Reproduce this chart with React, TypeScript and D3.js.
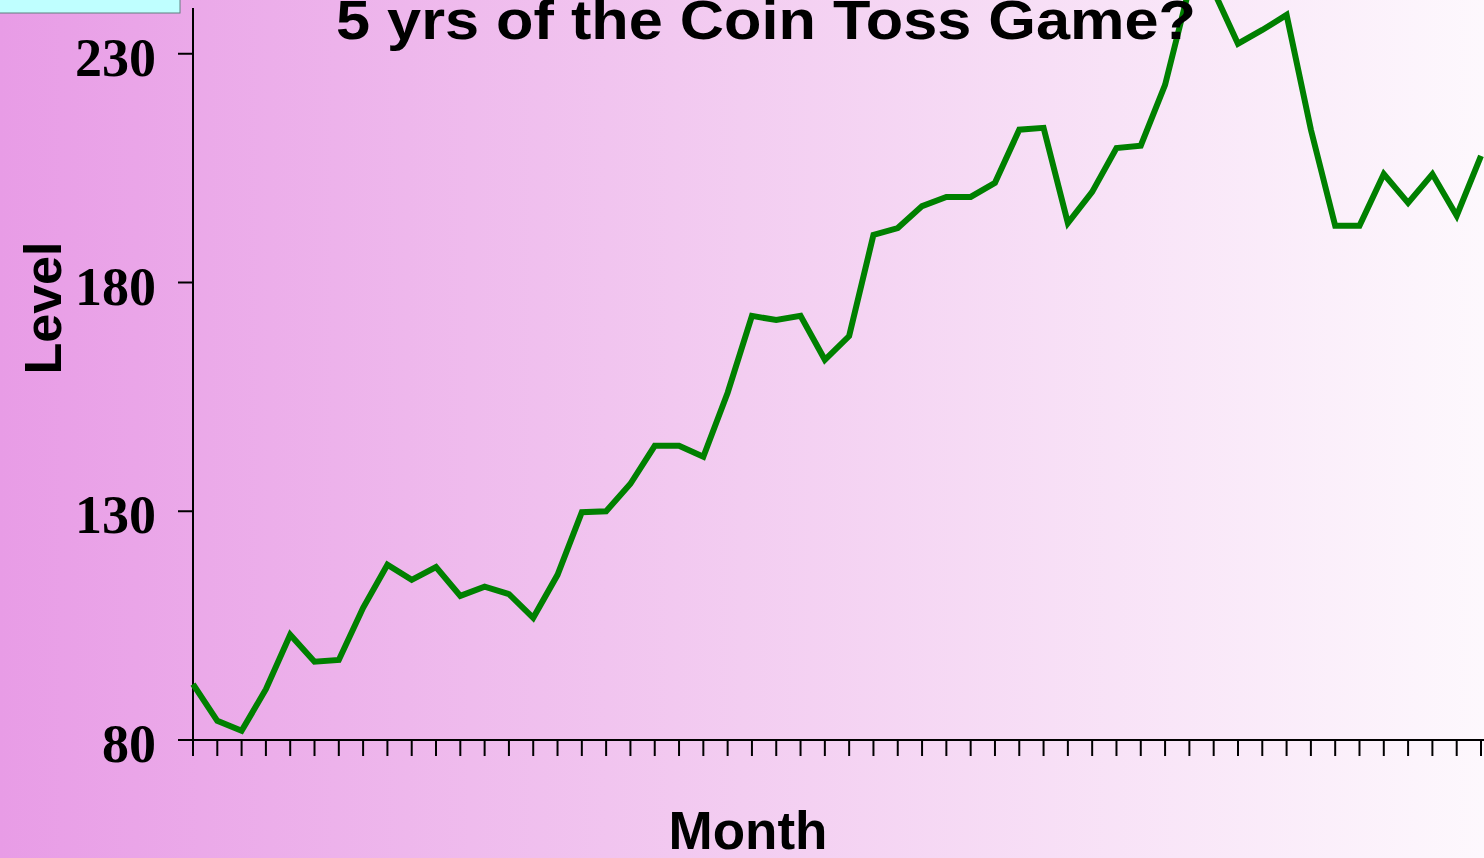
import React, { useRef, useEffect } from "react";
import * as d3 from "d3";

// monthly level of the coin toss game (visible part of the chart)
const levels: number[] = [
  92.2, 84.2, 82.0, 91.1, 103.0, 97.1, 97.5, 108.9, 118.3, 115.0,
  117.8, 111.5, 113.5, 111.9, 106.7, 116.1, 129.8, 130.0, 136.0, 144.3,
  144.3, 141.9, 155.9, 172.7, 171.8, 172.7, 163.1, 168.3, 190.4, 191.9,
  196.7, 198.7, 198.7, 201.8, 213.4, 213.8, 193.0, 199.8, 209.4, 209.9,
  223.2, 244.4, 243.7, 232.2, 235.2, 238.5, 213.4, 192.4, 192.4, 203.7,
  197.4, 203.7, 194.6, 207.7,
];
const yTicks: number[] = [80, 130, 180, 230];

const title = "5 yrs of the Coin Toss Game?";
const xTitle = "Month";
const yTitle = "Level";

const W = 1484;
const H = 858;

const App = () => {
  const svgRef = useRef<SVGSVGElement>(null);

  useEffect(() => {
    const svg = d3.select(svgRef.current);
    svg.selectAll("*").remove();

    const defs = svg.append("defs");
    const grad = defs
      .append("linearGradient")
      .attr("id", "bg")
      .attr("x1", "0%")
      .attr("x2", "100%")
      .attr("y1", "0%")
      .attr("y2", "0%");
    grad.append("stop").attr("offset", "0%").attr("stop-color", "#e89ce6");
    grad.append("stop").attr("offset", "50%").attr("stop-color", "#f3cdf1");
    grad.append("stop").attr("offset", "100%").attr("stop-color", "#fdf8fd");

    svg.append("rect").attr("width", W).attr("height", H).attr("fill", "url(#bg)");

    // legend box peeking in at the top left
    svg
      .append("rect")
      .attr("x", -2)
      .attr("y", -2)
      .attr("width", 182)
      .attr("height", 15)
      .attr("fill", "#bfffff")
      .attr("stroke", "#5f7f7f")
      .attr("stroke-width", 1);

    const x = d3.scaleLinear().domain([0, levels.length - 1]).range([193, 1481]);
    const y = d3.scaleLinear().domain([80, 240]).range([740, 8]);

    // y axis
    const yAxis = svg.append("g").attr("transform", "translate(193,0)");
    yAxis
      .append("line")
      .attr("y1", y(240))
      .attr("y2", y(80))
      .attr("stroke", "#000")
      .attr("stroke-width", 2);
    yTicks.forEach((t) => {
      yAxis
        .append("line")
        .attr("x1", -15)
        .attr("x2", 0)
        .attr("y1", y(t))
        .attr("y2", y(t))
        .attr("stroke", "#000")
        .attr("stroke-width", 2);
      yAxis
        .append("text")
        .attr("x", -37)
        .attr("y", y(t) + 22)
        .attr("text-anchor", "end")
        .attr("font-family", "'Liberation Serif', 'Times New Roman', serif")
        .attr("font-weight", "bold")
        .attr("font-size", 54)
        .text(t);
    });

    // x axis
    const xAxis = svg.append("g").attr("transform", `translate(0,${y(80)})`);
    xAxis
      .append("line")
      .attr("x1", 193)
      .attr("x2", W)
      .attr("stroke", "#000")
      .attr("stroke-width", 2);
    d3.range(levels.length).forEach((i) => {
      xAxis
        .append("line")
        .attr("x1", x(i))
        .attr("x2", x(i))
        .attr("y1", 0)
        .attr("y2", 16)
        .attr("stroke", "#000")
        .attr("stroke-width", 2);
    });

    const line = d3
      .line<number>()
      .x((d, i) => x(i))
      .y((d) => y(d));

    svg
      .append("path")
      .datum(levels)
      .attr("d", line)
      .attr("fill", "none")
      .attr("stroke", "#008000")
      .attr("stroke-width", 6)
      .attr("stroke-linejoin", "miter");

    svg
      .append("text")
      .attr("x", 336)
      .attr("y", 39)
      .attr("textLength", 860)
      .attr("lengthAdjust", "spacingAndGlyphs")
      .attr("font-family", "'Liberation Sans', Arial, sans-serif")
      .attr("font-weight", "bold")
      .attr("font-size", 56)
      .text(title);

    svg
      .append("text")
      .attr("x", 748)
      .attr("y", 849)
      .attr("text-anchor", "middle")
      .attr("font-family", "'Liberation Sans', Arial, sans-serif")
      .attr("font-weight", "bold")
      .attr("font-size", 53)
      .text(xTitle);

    svg
      .append("text")
      .attr("transform", "translate(61,308) rotate(-90)")
      .attr("text-anchor", "middle")
      .attr("font-family", "'Liberation Sans', Arial, sans-serif")
      .attr("font-weight", "bold")
      .attr("font-size", 52)
      .text(yTitle);
  }, []);

  return (
    <svg
      ref={svgRef}
      width={W}
      height={H}
      style={{ position: "fixed", left: 0, top: 0, display: "block" }}
    ></svg>
  );
};

export default App;
